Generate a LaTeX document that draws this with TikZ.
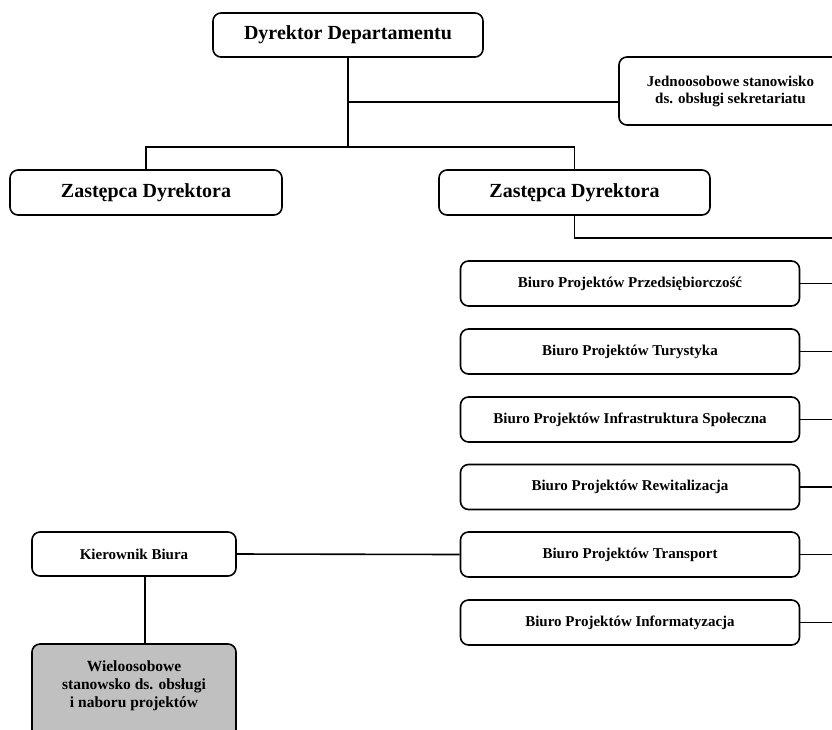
\documentclass[tikz,border=0pt]{standalone}
\usepackage{fontspec}
\setmainfont{Liberation Serif}
\begin{document}
\begin{tikzpicture}[x=1pt,y=-1pt,
  box/.style={draw=black,line width=1.6pt,rounded corners=8pt,fill=white,align=center,inner sep=0pt,font=\bfseries\fontsize{15}{17}\selectfont},
  bigbox/.style={box,font=\bfseries\fontsize{20}{24}\selectfont},
  conn/.style={draw=black,line width=1.6pt}]
\useasboundingbox (0,0) rectangle (832,729);
% top level
\node[bigbox,minimum width=270pt,minimum height=44pt] (dyr) at (348,35) {Dyrektor Departamentu};
\node[box,minimum width=223pt,minimum height=68pt] (jed) at (730.5,91) {Jednoosobowe stanowisko\\ds. obsługi sekretariatu};
\node[bigbox,minimum width=272pt,minimum height=45pt] (z1) at (146,192.5) {Zastępca Dyrektora};
\node[bigbox,minimum width=271pt,minimum height=45pt] (z2) at (574.5,192.5) {Zastępca Dyrektora};
% offices
\node[box,minimum width=339pt,minimum height=45pt] (b1) at (630,283.5) {Biuro Projektów Przedsiębiorczość};
\node[box,minimum width=339pt,minimum height=45pt] (b2) at (630,351.5) {Biuro Projektów Turystyka};
\node[box,minimum width=339pt,minimum height=45pt] (b3) at (630,419.5) {Biuro Projektów Infrastruktura Społeczna};
\node[box,minimum width=339pt,minimum height=45pt] (b4) at (630,487) {Biuro Projektów Rewitalizacja};
\node[box,minimum width=339pt,minimum height=45pt] (b5) at (630,554.5) {Biuro Projektów Transport};
\node[box,minimum width=339pt,minimum height=45pt] (b6) at (630,622.5) {Biuro Projektów Informatyzacja};
\node[box,minimum width=204pt,minimum height=44pt] (kb) at (134,554) {Kierownik Biura};
\node[box,fill={rgb,255:red,192;green,192;blue,192},minimum width=204pt,minimum height=94pt,text depth=14pt,font=\bfseries\fontsize{15.5}{18}\selectfont] (wb) at (134,691) {Wieloosobowe\\stanowsko ds. obsługi\\i naboru projektów};
% connectors
\coordinate (jj) at (348,102);
\coordinate (tb) at (348,147);
\coordinate (rb) at (834,238);
\draw[conn] (dyr.south) -- (tb);
\draw[conn] (jj) -- (jj -| jed.west);
\draw[conn] (z1.north) |- (tb) -| (z2.north);
\draw[conn] (z2.south) |- (rb);
\foreach \b in {b1,b2,b3,b4,b5,b6}{\draw[conn] (\b.east) -- (\b.east -| rb);}
\draw[conn] (kb.east) -- (b5.west);
\draw[conn] ([xshift=11pt]kb.south) -- ([xshift=11pt]kb.south |- wb.north);
\end{tikzpicture}
\end{document}
